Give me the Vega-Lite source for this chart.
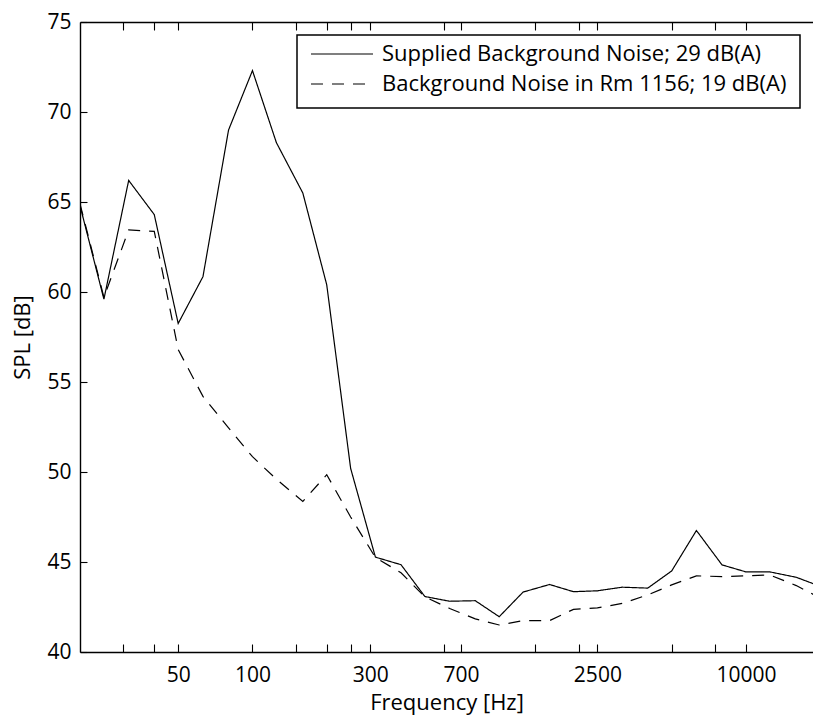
{
  "$schema": "https://vega.github.io/schema/vega-lite/v6.json",
  "width": 733,
  "height": 630,
  "autosize": {"type": "none"},
  "padding": {"left": 80, "top": 22, "right": 0, "bottom": 63},
  "background": "white",
  "view": {"stroke": null},
  "config": {"font": "Open Sans", "legend": {"strokeWidth": 1.5}},
  "datasets": {
    "spl": [
      {"freq": 20, "series": "Supplied Background Noise; 29 dB(A)", "spl": 64.8},
      {"freq": 25, "series": "Supplied Background Noise; 29 dB(A)", "spl": 59.6},
      {"freq": 31.5, "series": "Supplied Background Noise; 29 dB(A)", "spl": 66.2},
      {"freq": 40, "series": "Supplied Background Noise; 29 dB(A)", "spl": 64.3},
      {"freq": 50, "series": "Supplied Background Noise; 29 dB(A)", "spl": 58.25},
      {"freq": 63, "series": "Supplied Background Noise; 29 dB(A)", "spl": 60.85},
      {"freq": 80, "series": "Supplied Background Noise; 29 dB(A)", "spl": 69.0},
      {"freq": 100, "series": "Supplied Background Noise; 29 dB(A)", "spl": 72.3},
      {"freq": 125, "series": "Supplied Background Noise; 29 dB(A)", "spl": 68.3},
      {"freq": 160, "series": "Supplied Background Noise; 29 dB(A)", "spl": 65.5},
      {"freq": 200, "series": "Supplied Background Noise; 29 dB(A)", "spl": 60.4},
      {"freq": 250, "series": "Supplied Background Noise; 29 dB(A)", "spl": 50.2},
      {"freq": 315, "series": "Supplied Background Noise; 29 dB(A)", "spl": 45.27},
      {"freq": 400, "series": "Supplied Background Noise; 29 dB(A)", "spl": 44.85},
      {"freq": 500, "series": "Supplied Background Noise; 29 dB(A)", "spl": 43.08},
      {"freq": 630, "series": "Supplied Background Noise; 29 dB(A)", "spl": 42.82},
      {"freq": 800, "series": "Supplied Background Noise; 29 dB(A)", "spl": 42.85},
      {"freq": 1000, "series": "Supplied Background Noise; 29 dB(A)", "spl": 41.96},
      {"freq": 1250, "series": "Supplied Background Noise; 29 dB(A)", "spl": 43.33},
      {"freq": 1600, "series": "Supplied Background Noise; 29 dB(A)", "spl": 43.75},
      {"freq": 2000, "series": "Supplied Background Noise; 29 dB(A)", "spl": 43.35},
      {"freq": 2500, "series": "Supplied Background Noise; 29 dB(A)", "spl": 43.4},
      {"freq": 3150, "series": "Supplied Background Noise; 29 dB(A)", "spl": 43.6},
      {"freq": 4000, "series": "Supplied Background Noise; 29 dB(A)", "spl": 43.55},
      {"freq": 5000, "series": "Supplied Background Noise; 29 dB(A)", "spl": 44.5},
      {"freq": 6300, "series": "Supplied Background Noise; 29 dB(A)", "spl": 46.75},
      {"freq": 8000, "series": "Supplied Background Noise; 29 dB(A)", "spl": 44.84},
      {"freq": 10000, "series": "Supplied Background Noise; 29 dB(A)", "spl": 44.45},
      {"freq": 12500, "series": "Supplied Background Noise; 29 dB(A)", "spl": 44.45},
      {"freq": 16000, "series": "Supplied Background Noise; 29 dB(A)", "spl": 44.15},
      {"freq": 20000, "series": "Supplied Background Noise; 29 dB(A)", "spl": 43.65},
      {"freq": 20, "series": "Background Noise in Rm 1156; 19 dB(A)", "spl": 64.9},
      {"freq": 25, "series": "Background Noise in Rm 1156; 19 dB(A)", "spl": 59.7},
      {"freq": 31.5, "series": "Background Noise in Rm 1156; 19 dB(A)", "spl": 63.45},
      {"freq": 40, "series": "Background Noise in Rm 1156; 19 dB(A)", "spl": 63.37},
      {"freq": 50, "series": "Background Noise in Rm 1156; 19 dB(A)", "spl": 56.8},
      {"freq": 63, "series": "Background Noise in Rm 1156; 19 dB(A)", "spl": 54.2},
      {"freq": 80, "series": "Background Noise in Rm 1156; 19 dB(A)", "spl": 52.45},
      {"freq": 100, "series": "Background Noise in Rm 1156; 19 dB(A)", "spl": 50.85},
      {"freq": 125, "series": "Background Noise in Rm 1156; 19 dB(A)", "spl": 49.6},
      {"freq": 160, "series": "Background Noise in Rm 1156; 19 dB(A)", "spl": 48.36},
      {"freq": 200, "series": "Background Noise in Rm 1156; 19 dB(A)", "spl": 49.85},
      {"freq": 250, "series": "Background Noise in Rm 1156; 19 dB(A)", "spl": 47.5},
      {"freq": 315, "series": "Background Noise in Rm 1156; 19 dB(A)", "spl": 45.25},
      {"freq": 400, "series": "Background Noise in Rm 1156; 19 dB(A)", "spl": 44.4},
      {"freq": 500, "series": "Background Noise in Rm 1156; 19 dB(A)", "spl": 43.06},
      {"freq": 630, "series": "Background Noise in Rm 1156; 19 dB(A)", "spl": 42.42},
      {"freq": 800, "series": "Background Noise in Rm 1156; 19 dB(A)", "spl": 41.84},
      {"freq": 1000, "series": "Background Noise in Rm 1156; 19 dB(A)", "spl": 41.5},
      {"freq": 1250, "series": "Background Noise in Rm 1156; 19 dB(A)", "spl": 41.74},
      {"freq": 1600, "series": "Background Noise in Rm 1156; 19 dB(A)", "spl": 41.74},
      {"freq": 2000, "series": "Background Noise in Rm 1156; 19 dB(A)", "spl": 42.37},
      {"freq": 2500, "series": "Background Noise in Rm 1156; 19 dB(A)", "spl": 42.45},
      {"freq": 3150, "series": "Background Noise in Rm 1156; 19 dB(A)", "spl": 42.7},
      {"freq": 4000, "series": "Background Noise in Rm 1156; 19 dB(A)", "spl": 43.17},
      {"freq": 5000, "series": "Background Noise in Rm 1156; 19 dB(A)", "spl": 43.73},
      {"freq": 6300, "series": "Background Noise in Rm 1156; 19 dB(A)", "spl": 44.23},
      {"freq": 8000, "series": "Background Noise in Rm 1156; 19 dB(A)", "spl": 44.19},
      {"freq": 10000, "series": "Background Noise in Rm 1156; 19 dB(A)", "spl": 44.23},
      {"freq": 12500, "series": "Background Noise in Rm 1156; 19 dB(A)", "spl": 44.28},
      {"freq": 16000, "series": "Background Noise in Rm 1156; 19 dB(A)", "spl": 43.69},
      {"freq": 20000, "series": "Background Noise in Rm 1156; 19 dB(A)", "spl": 43.0}
    ]
  },
  "data": {"name": "spl"},
  "layer": [
    {
      "transform": [{"filter": "datum.series === 'Supplied Background Noise; 29 dB(A)'"}],
      "mark": {"type": "line", "clip": true, "color": "black", "strokeWidth": 1.2},
      "encoding": {
        "x": {
          "field": "freq",
          "type": "quantitative",
          "scale": {"type": "log", "domain": [20, 18700], "nice": false},
          "axis": {
            "orient": "bottom",
            "values": [30, 40, 50, 100, 150, 200, 250, 300, 600, 700, 1400, 2100, 2500, 5000, 7500, 10000],
            "labelExpr": "indexof([50,100,300,700,2500,10000], datum.value) >= 0 ? format(datum.value, 'd') : ''",
            "grid": false,
            "ticks": true,
            "tickSize": -8,
            "tickColor": "black",
            "tickWidth": 1.1,
            "labelPadding": 20,
            "labelFont": "Open Sans",
            "labelFontSize": 21,
            "labelColor": "black",
            "labelOverlap": false,
            "labelFlush": false,
            "domainColor": "black",
            "domainWidth": 1.4,
            "title": "Frequency [Hz]",
            "titleFont": "Open Sans",
            "titleFontSize": 22,
            "titleFontWeight": "normal",
            "titleColor": "black",
            "titlePadding": 7,
            "encode": {
              "ticks": {
                "update": {
                  "y2": [
                    {"test": "indexof([50,100,300,700,2500,10000], datum.value) >= 0", "value": -8},
                    {"value": -4}
                  ]
                }
              }
            }
          }
        },
        "y": {
          "field": "spl",
          "type": "quantitative",
          "scale": {"domain": [40, 75], "nice": false, "zero": false},
          "axis": {
            "orient": "left",
            "values": [40, 45, 50, 55, 60, 65, 70, 75],
            "grid": false,
            "ticks": true,
            "tickSize": -7,
            "tickColor": "black",
            "tickWidth": 1.1,
            "labelPadding": 16,
            "labelFont": "Open Sans",
            "labelFontSize": 21,
            "labelColor": "black",
            "labelOverlap": false,
            "labelFlush": false,
            "domainColor": "black",
            "domainWidth": 1.4,
            "title": "SPL [dB]",
            "titleFont": "Open Sans",
            "titleFontSize": 22,
            "titleFontWeight": "normal",
            "titleColor": "black",
            "titlePadding": 12
          }
        },
        "strokeDash": {
          "field": "series",
          "type": "nominal",
          "scale": {
            "domain": ["Supplied Background Noise; 29 dB(A)", "Background Noise in Rm 1156; 19 dB(A)"],
            "range": [[1, 0], [12, 9]]
          },
          "legend": {
            "orient": "top-right",
            "offset": 13,
            "title": null,
            "strokeColor": "black",
            "fillColor": "white",
            "padding": 13,
            "symbolType": "stroke",
            "symbolSize": 3844,
            "symbolStrokeWidth": 1.2,
            "symbolStrokeColor": "black",
            "labelFont": "Open Sans",
            "labelFontSize": 22,
            "labelColor": "black",
            "labelOffset": 8,
            "labelLimit": 0,
            "clipHeight": 12,
            "rowPadding": 8
          }
        }
      }
    },
    {
      "transform": [{"filter": "datum.series === 'Background Noise in Rm 1156; 19 dB(A)'"}],
      "mark": {"type": "line", "clip": true, "color": "black", "strokeWidth": 1.2},
      "encoding": {
        "x": {
          "field": "freq",
          "type": "quantitative",
          "scale": {"type": "log", "domain": [20, 18700], "nice": false},
          "axis": {
            "orient": "top",
            "values": [30, 40, 50, 100, 150, 200, 250, 300, 600, 700, 1400, 2100, 2500, 5000, 7500, 10000],
            "labels": false,
            "grid": false,
            "ticks": true,
            "tickSize": -8,
            "tickColor": "black",
            "tickWidth": 1.1,
            "domainColor": "black",
            "domainWidth": 1.4,
            "title": null,
            "encode": {
              "ticks": {
                "update": {
                  "y2": [
                    {"test": "indexof([50,100,300,700,2500,10000], datum.value) >= 0", "value": 8},
                    {"value": 4}
                  ]
                }
              }
            }
          }
        },
        "y": {"field": "spl", "type": "quantitative"},
        "strokeDash": {"field": "series", "type": "nominal"}
      }
    }
  ],
  "resolve": {"axis": {"x": "independent"}}
}
